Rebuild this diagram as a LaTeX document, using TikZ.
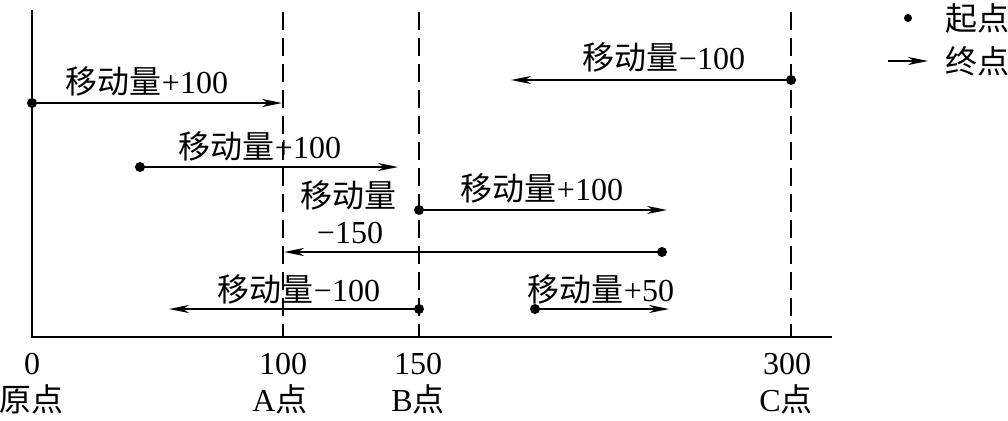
\documentclass[tikz,border=0pt]{standalone}
\usepackage{fontspec}
\setmainfont{Liberation Serif}
\newfontfamily\cjk{Noto Sans CJK SC}
\usetikzlibrary{arrows.meta}
\begin{document}
\begin{tikzpicture}[x=1pt,y=-1pt,
  lbl/.style={inner sep=0pt, font=\fontsize{32}{34}\selectfont},
  dot/.style={circle, fill=black, inner sep=0pt, minimum size=10pt},
  mv/.style={line width=1.5pt, -{Stealth[length=20pt,width=8pt,inset=6pt]}},
  vline/.style={line width=1.4pt, dash pattern=on 18pt off 8pt},
  axisline/.style={line width=2pt}]
\useasboundingbox[fill=white] (0,0) rectangle (1008,420);
% axes
\coordinate (Otop) at (32,10);
\coordinate (O) at (32,337);
\coordinate (Xend) at (832,337);
\draw[axisline] (Otop) -- (O) -- (Xend);
% dashed reference lines
\coordinate (Atop) at (283,12); \coordinate (Abot) at (283,337);
\coordinate (Btop) at (419,12); \coordinate (Bbot) at (419,337);
\coordinate (Ctop) at (791,12); \coordinate (Cbot) at (791,337);
\draw[vline] (Atop) -- (Abot);
\draw[vline] (Btop) -- (Bbot);
\draw[vline] (Ctop) -- (Cbot);
% tick labels
\node[lbl] (t0) at (32,364) {0};
\node[lbl] (t100) at (283,364) {100};
\node[lbl] (t150) at (418,364) {150};
\node[lbl] (t300) at (787,364) {300};
\node[lbl] (p0) at (31,399) {{\cjk 原点}};
\node[lbl] (pA) at (280,399) {A{\cjk 点}};
\node[lbl] (pB) at (418,399) {B{\cjk 点}};
\node[lbl] (pC) at (786,399) {C{\cjk 点}};
% row 1: C -100
\node[dot] (s1) at (791,80) {};
\coordinate (e1) at (511,80);
\draw[mv] (s1.center) -- (e1);
\node[lbl] (l1) at (664,57) {{\cjk 移动量}−100};
% row 2: 0 +100
\node[dot] (s2) at (32,103) {};
\coordinate (e2) at (282,103);
\draw[mv] (s2.center) -- (e2);
\node[lbl] (l2) at (147,81) {{\cjk 移动量}+100};
% row 3
\node[dot] (s3) at (140,167) {};
\coordinate (e3) at (398,167);
\draw[mv] (s3.center) -- (e3);
\node[lbl] (l3) at (260,146) {{\cjk 移动量}+100};
% row 4: B +100
\node[dot] (s4) at (419,210) {};
\coordinate (e4) at (667,210);
\draw[mv] (s4.center) -- (e4);
\node[lbl] (l4) at (542,188) {{\cjk 移动量}+100};
% row 5: -150
\node[dot] (s5) at (662,252) {};
\coordinate (e5) at (284,252);
\draw[mv] (s5.center) -- (e5);
\node[lbl] (l5a) at (348,195) {{\cjk 移动量}};
\node[lbl] (l5b) at (350,233) {−150};
% row 6: B -100
\node[dot] (s6) at (419,309) {};
\coordinate (e6) at (169,309);
\draw[mv] (s6.center) -- (e6);
\node[lbl] (l6) at (299,289) {{\cjk 移动量}−100};
% row 6: +50
\node[dot] (s7) at (535,309) {};
\coordinate (e7) at (669,309);
\draw[mv] (s7.center) -- (e7);
\node[lbl] (l7) at (601,289) {{\cjk 移动量}+50};
% legend
\node[dot, minimum size=8pt] (ld) at (908,18) {};
\node[lbl] (lt1) at (977,18) {{\cjk 起点}};
\coordinate (la1) at (888,61);
\coordinate (la2) at (928,61);
\draw[mv] (la1) -- (la2);
\node[lbl] (lt2) at (977,61) {{\cjk 终点}};
\end{tikzpicture}
\end{document}
